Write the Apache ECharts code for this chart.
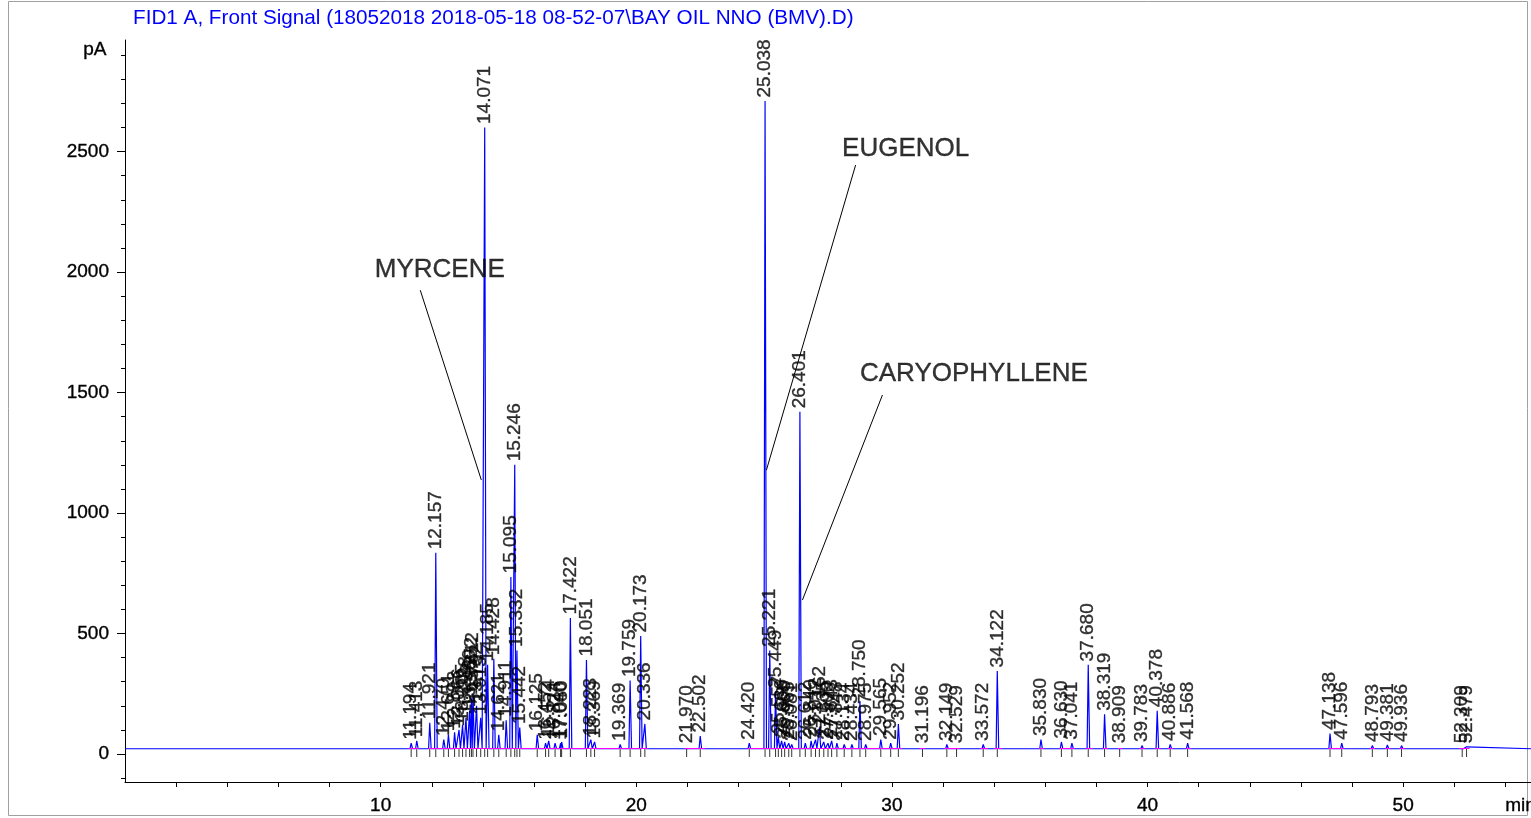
<!DOCTYPE html>
<html><head><meta charset="utf-8">
<script src="https://cdn.jsdelivr.net/npm/echarts@6/dist/echarts.min.js"></script>
<style>html,body{margin:0;padding:0;background:#fff}#c{width:1531px;height:818px}</style>
</head><body><div id="c"></div>
<script>
// ---- data ----
const titleText = 'FID1 A, Front Signal (18052018 2018-05-18 08-52-07\\BAY OIL NNO (BMV).D)';
const baselineLevel = 22; // pA
const peakTimes = [11.194, 11.413, 11.921, 12.157, 12.470, 12.651, 12.893, 13.066, 13.205, 13.338, 13.480, 13.552, 13.612, 13.752, 13.915,
  14.071, 14.185, 14.428, 14.621, 14.911, 15.095, 15.246, 15.332, 15.442, 16.125, 16.452, 16.574, 16.824, 17.040, 17.080,
  17.422, 18.051, 18.223, 18.369, 19.369, 19.759, 20.173, 20.336, 21.970, 22.502, 24.420, 25.038, 25.221, 25.449, 25.557,
  25.686, 25.805, 25.965, 26.081, 26.401, 26.612, 26.840, 27.012, 27.162, 27.335, 27.500, 27.643, 27.848, 28.134, 28.434,
  28.750, 28.975, 29.565, 29.952, 30.252, 31.196, 32.149, 32.529, 33.572, 34.122, 35.830, 36.630, 37.041, 37.680, 38.319,
  38.909, 39.783, 40.378, 40.886, 41.568, 47.138, 47.596, 48.793, 49.381, 49.936, 52.309, 52.479];
const peakHeights = [45, 55, 130, 835, 60, 80, 90, 100, 120, 150, 180, 230, 250, 200, 150,
  2600, 370, 395, 80, 140, 735, 1200, 430, 110, 80, 45, 55, 45, 45, 50,
  565, 390, 60, 50, 40, 305, 490, 125, 30, 75, 45, 2710, 430, 260, 70,
  55, 50, 45, 40, 1420, 45, 55, 60, 110, 50, 45, 55, 45, 40, 40,
  220, 40, 60, 45, 125, 30, 40, 30, 40, 345, 60, 50, 45, 370, 165,
  30, 35, 180, 40, 45, 85, 45, 35, 38, 35, 30, 30];
// small unlabelled bumps (time, pA)
const minorTimes = [3.52, 4.55, 4.92, 5.30, 5.80, 6.45, 7.00, 7.85, 8.45];
const minorHeights = [27, 25, 26, 25, 26, 25, 26, 25, 25];
// integration baseline segments (min)
const baselineSegments = [[11.1, 11.5], [11.85, 20.45], [21.9, 22.7], [24.35, 30.4], [31.1, 31.3], [32.05, 32.65], [33.45, 33.75],
  [34.0, 34.3], [35.75, 35.95], [36.55, 37.15], [37.6, 37.85], [38.25, 38.45], [38.85, 39.0], [39.7, 39.9], [40.3, 40.5],
  [40.8, 41.0], [41.5, 41.7], [47.05, 47.7], [48.7, 48.9], [49.3, 49.5], [49.85, 50.05], [52.2, 52.6]];
// compound annotations: text anchor [min, pA], leader line from/to
const annotNames = ['MYRCENE', 'EUGENOL', 'CARYOPHYLLENE'];
const annotText = [[9.79, 2008], [28.07, 2510], [28.77, 1577]];
const annotFrom = [[11.55, 1925], [28.58, 2444], [29.63, 1490]];
const annotTo = [[13.94, 1137], [25.09, 1178], [26.50, 639]];
const xTickValues = [2,4,6,8,10,12,14,16,18,20,22,24,26,28,30,32,34,36,38,40,42,44,46,48,50,52,54];
const xLabelValues = [10, 20, 30, 40, 50];
const yLabelValues = [0, 500, 1000, 1500, 2000, 2500];
const yMinorValues = [-100,0,100,200,300,400,500,600,700,800,900,1000,1100,1200,1300,1400,1500,1600,1700,1800,1900,2000,2100,2200,2300,2400,2500,2600,2700,2800,2900];

// ---- build trace from peak table ----
const allPeaks = peakTimes.map((t, i) => [t, peakHeights[i]])
  .concat(minorTimes.map((t, i) => [t, minorHeights[i]]))
  .sort((a, b) => a[0] - b[0]);
const trace = [[0, baselineLevel]];
allPeaks.forEach((p, i) => {
  const prev = i > 0 ? allPeaks[i - 1][0] : 0;
  const next = i < allPeaks.length - 1 ? allPeaks[i + 1][0] : 55;
  const wl = Math.min(0.045, (p[0] - prev) / 2);
  const wr = Math.min(0.055, (next - p[0]) / 2);
  trace.push([p[0] - wl, baselineLevel], [p[0], p[1]], [p[0] + wr, baselineLevel]);
});
trace.push([55, baselineLevel]);

const FONT = 'Arial, "Liberation Sans", sans-serif';
const darkText = {color: '#000', fontFamily: FONT, textBorderColor: '#000', textBorderWidth: 0.35};
const chart = echarts.init(document.getElementById('c'), null, {renderer: 'canvas'});
chart.setOption({
  animation: false,
  backgroundColor: '#fff',
  title: {text: titleText, left: 128, top: 3, textStyle: {color: '#0000ff', fontSize: 20.7, fontWeight: 'normal', fontFamily: FONT}},
  grid: {left: 125, right: 0, top: 40, bottom: 36, containLabel: false},
  xAxis: {
    type: 'value', min: 0, max: 55,
    axisLine: {show: true, onZero: false, lineStyle: {color: '#000', width: 1}},
    axisTick: {show: true, customValues: xTickValues, length: 5, lineStyle: {color: '#000'}},
    axisLabel: Object.assign({customValues: xLabelValues, fontSize: 19, margin: 14, formatter: v => String(v)}, darkText),
    splitLine: {show: false}
  },
  yAxis: [{
    type: 'value', min: -116, max: 2963,
    axisLine: {show: true, lineStyle: {color: '#000', width: 1}},
    axisTick: {show: true, customValues: yLabelValues, length: 8, lineStyle: {color: '#000'}},
    axisLabel: Object.assign({customValues: yLabelValues, fontSize: 19, margin: 16, formatter: v => String(v)}, darkText),
    splitLine: {show: false}
  }, {
    type: 'value', min: -116, max: 2963, position: 'left',
    axisLine: {show: false},
    axisTick: {show: true, customValues: yMinorValues, length: 4, lineStyle: {color: '#000'}},
    axisLabel: {show: false}, splitLine: {show: false}
  }],
  graphic: [
    {type: 'rect', shape: {x: 8.5, y: 1.5, width: 1519, height: 814}, style: {fill: 'none', stroke: '#a0a0a0', lineWidth: 1}, z: -1},
    {type: 'text', left: 83, top: 40, style: {text: 'pA', fontSize: 19, fontFamily: FONT, fill: '#000', stroke: '#000', lineWidth: 0.35}},
    {type: 'text', left: 1505, top: 796, style: {text: 'min', fontSize: 19, fontFamily: FONT, fill: '#000', stroke: '#000', lineWidth: 0.35}}
  ],
  series: [
    {type: 'line', name: 'signal', data: trace, showSymbol: false, symbol: 'none', lineStyle: {color: '#0000ff', width: 1.2}, z: 3, silent: true},
    {type: 'lines', coordinateSystem: 'cartesian2d', polyline: false, silent: true, z: 4,
      lineStyle: {color: '#ff00ff', width: 1, opacity: 1},
      data: baselineSegments.map(s => ({coords: [[s[0], baselineLevel + 2], [s[1], baselineLevel + 2]]}))},
    {type: 'scatter', name: 'rtMarks', symbol: 'rect', symbolSize: [1, 9], silent: true, z: 2,
      itemStyle: {color: '#000'}, data: peakTimes.map(t => [t, 6])},
    {type: 'scatter', name: 'peakLabels', symbolSize: 1, silent: true, z: 5,
      itemStyle: {color: 'rgba(0,0,0,0)'},
      data: peakTimes.map((t, i) => [t, peakHeights[i]]),
      label: Object.assign({show: true, position: 'top', distance: 3, rotate: 90, align: 'left', verticalAlign: 'middle',
        formatter: p => p.value[0].toFixed(3), fontSize: 19}, darkText)},
    {type: 'lines', coordinateSystem: 'cartesian2d', silent: true, z: 6,
      lineStyle: {color: '#000', width: 1, opacity: 1},
      data: annotFrom.map((f, i) => ({coords: [f, annotTo[i]]}))},
    {type: 'scatter', name: 'annotations', symbolSize: 1, silent: true, z: 6,
      itemStyle: {color: 'rgba(0,0,0,0)'},
      data: annotText.map((p, i) => ({name: annotNames[i], value: p})),
      label: Object.assign({show: true, position: [0, 0], align: 'left', verticalAlign: 'middle',
        formatter: p => p.name, fontSize: 26}, darkText)}
  ]
});
</script></body></html>
